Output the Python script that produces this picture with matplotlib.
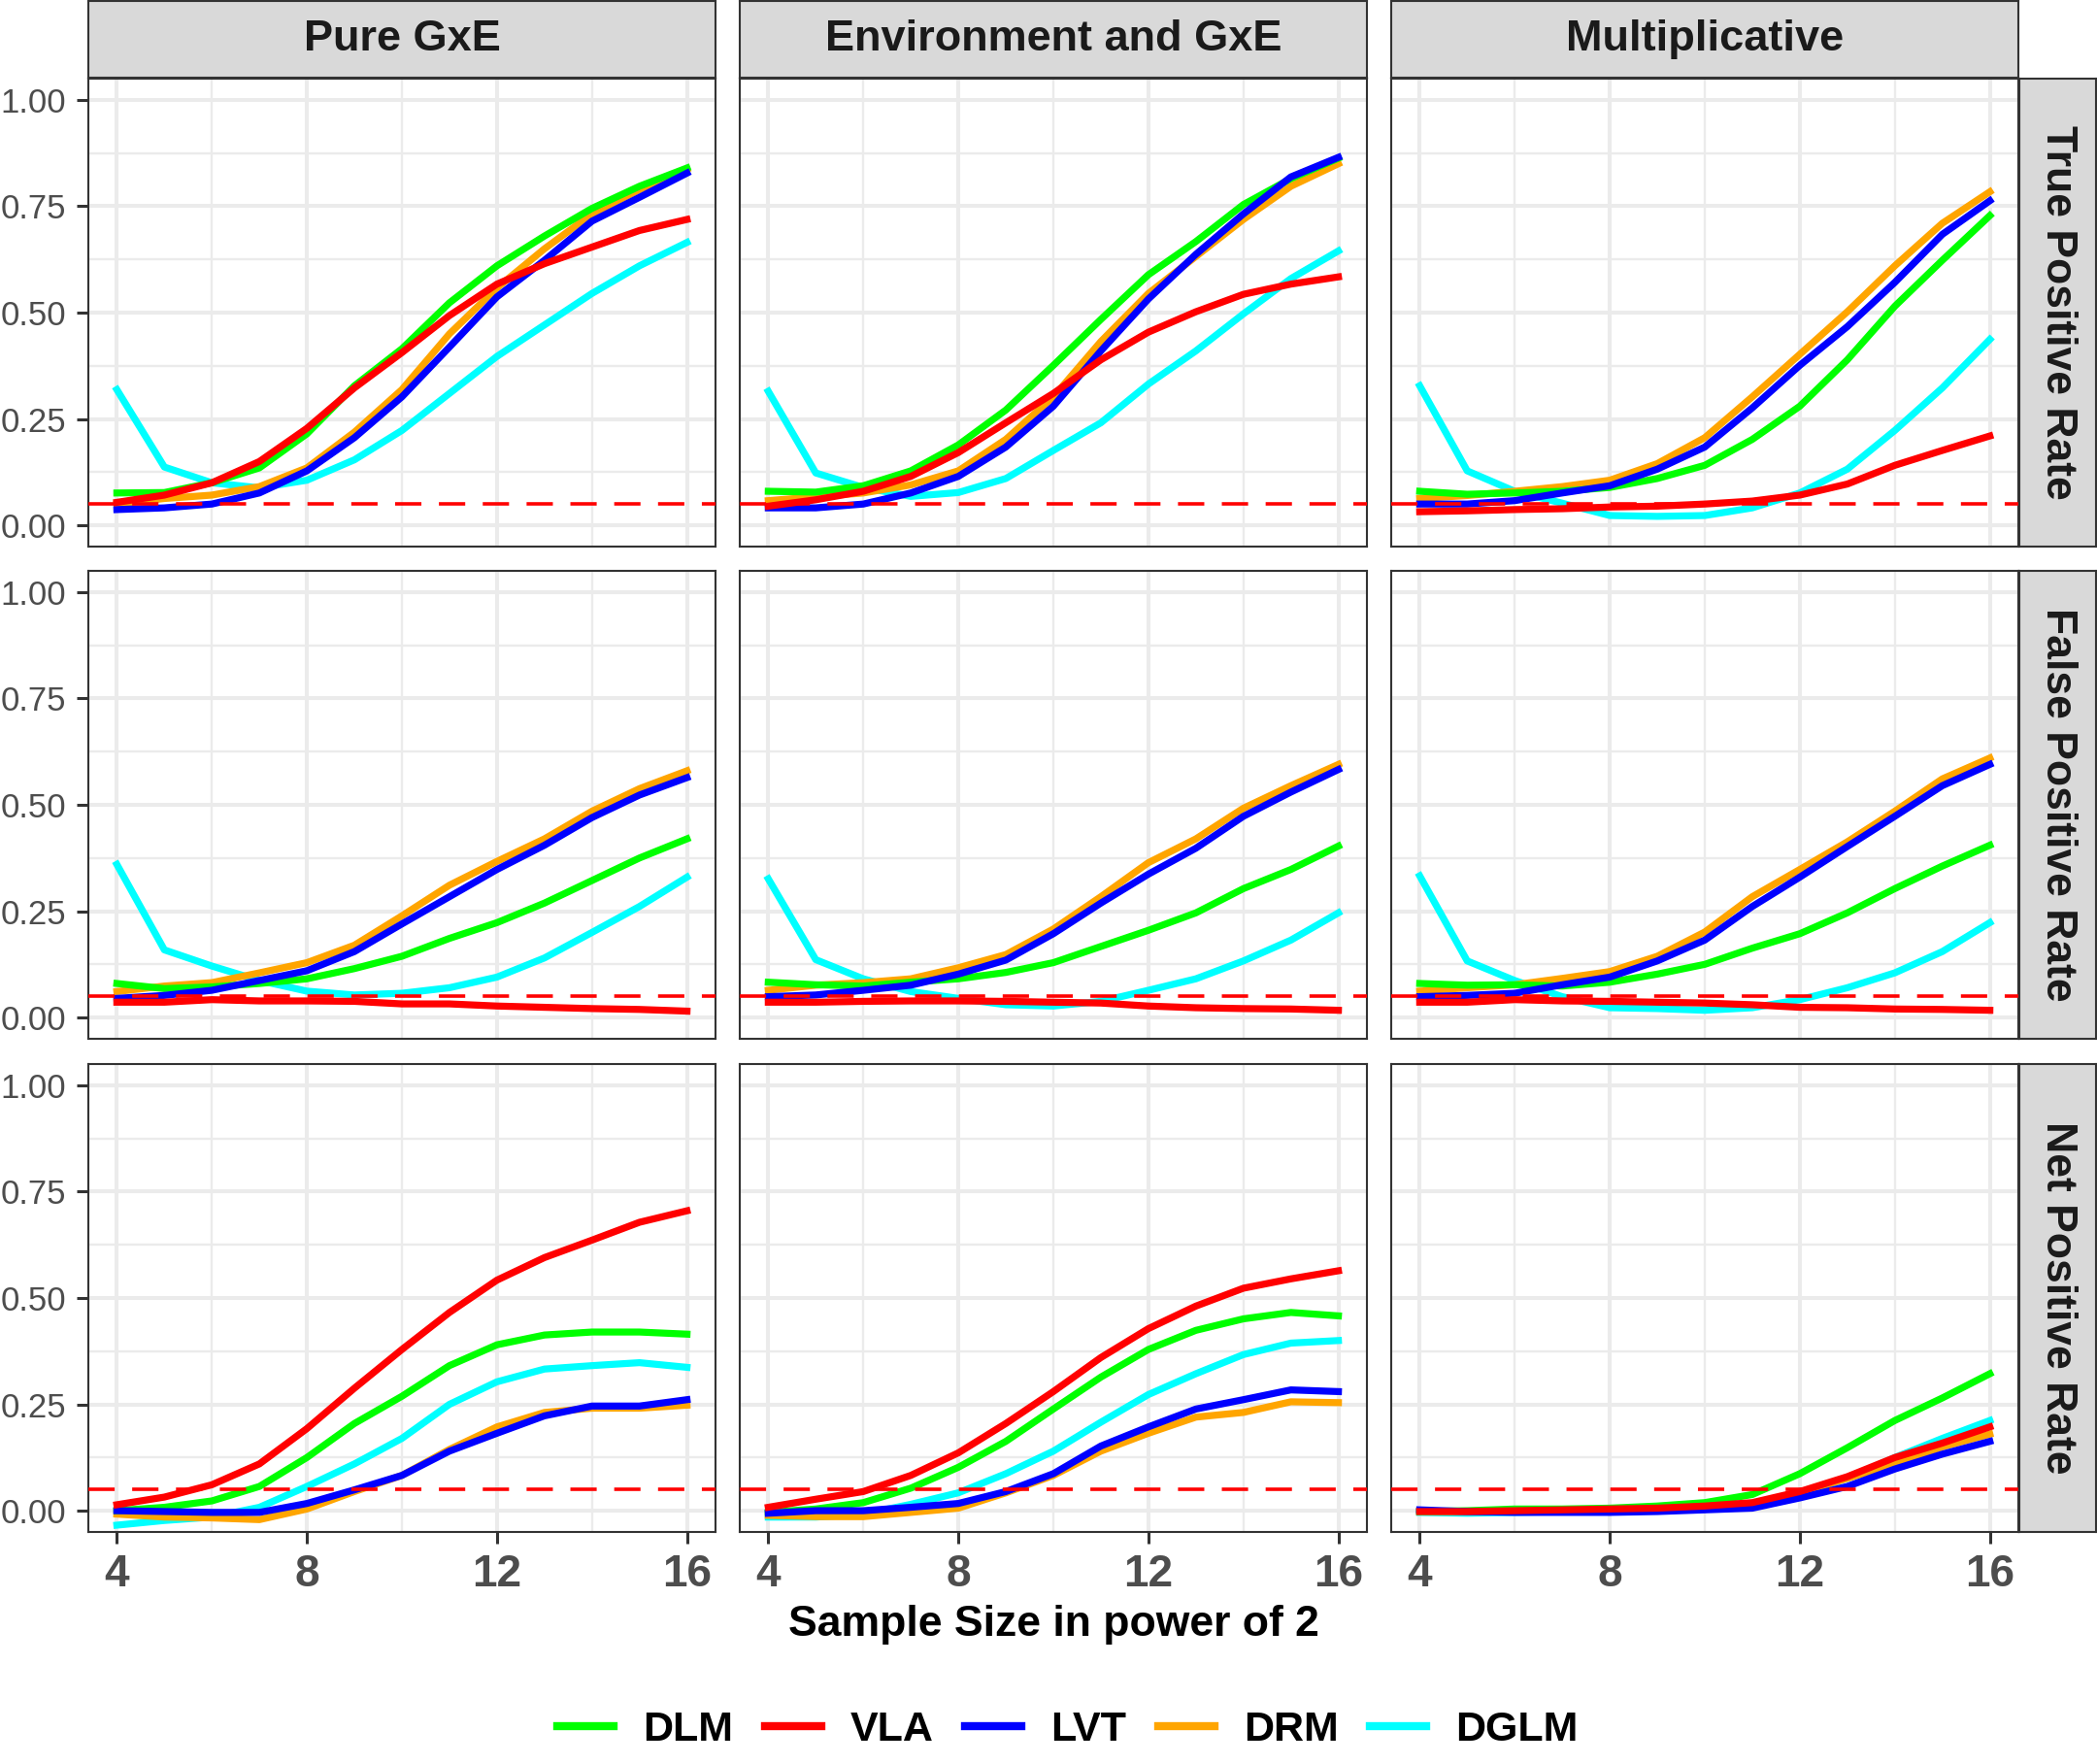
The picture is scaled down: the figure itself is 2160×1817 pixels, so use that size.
import numpy as np
import matplotlib
matplotlib.use('Agg')
import matplotlib.pyplot as plt
from matplotlib.lines import Line2D

plt.rcParams['font.family'] = ['Liberation Sans', 'DejaVu Sans']

# sample size exponent (2^x)
sizes = list(range(4, 17))
methods = ['DLM', 'VLA', 'LVT', 'DRM', 'DGLM']
colors = {'DLM': '#00FF00', 'VLA': '#FF0000', 'LVT': '#0000FF',
          'DRM': '#FFA500', 'DGLM': '#00FFFF'}
scenarios = ['Pure GxE', 'Environment and GxE', 'Multiplicative']
rates = ['True Positive Rate', 'False Positive Rate', 'Net Positive Rate']

# true positive rate
tpr_pure = {
    'DLM':  [0.076, 0.077, 0.100, 0.135, 0.215, 0.328, 0.415, 0.523, 0.610, 0.680, 0.745, 0.797, 0.840],
    'VLA':  [0.054, 0.071, 0.100, 0.150, 0.228, 0.323, 0.406, 0.493, 0.567, 0.615, 0.654, 0.693, 0.719],
    'LVT':  [0.037, 0.041, 0.050, 0.076, 0.128, 0.206, 0.302, 0.419, 0.537, 0.623, 0.715, 0.771, 0.828],
    'DRM':  [0.050, 0.063, 0.071, 0.091, 0.135, 0.219, 0.319, 0.450, 0.558, 0.650, 0.732, 0.789, 0.837],
    'DGLM': [0.319, 0.137, 0.100, 0.088, 0.106, 0.154, 0.223, 0.310, 0.397, 0.471, 0.545, 0.610, 0.665],
}
tpr_env = {
    'DLM':  [0.080, 0.078, 0.093, 0.128, 0.189, 0.271, 0.376, 0.484, 0.589, 0.667, 0.754, 0.815, 0.863],
    'VLA':  [0.045, 0.060, 0.080, 0.115, 0.171, 0.241, 0.310, 0.389, 0.454, 0.502, 0.543, 0.567, 0.584],
    'LVT':  [0.041, 0.041, 0.050, 0.076, 0.115, 0.184, 0.280, 0.410, 0.532, 0.637, 0.732, 0.819, 0.865],
    'DRM':  [0.058, 0.067, 0.076, 0.095, 0.128, 0.202, 0.302, 0.432, 0.545, 0.632, 0.719, 0.797, 0.850],
    'DGLM': [0.315, 0.123, 0.089, 0.068, 0.077, 0.110, 0.176, 0.241, 0.332, 0.410, 0.497, 0.580, 0.645],
}
tpr_mult = {
    'DLM':  [0.080, 0.073, 0.076, 0.080, 0.089, 0.110, 0.141, 0.202, 0.280, 0.389, 0.515, 0.623, 0.728],
    'VLA':  [0.032, 0.034, 0.037, 0.039, 0.043, 0.045, 0.050, 0.057, 0.071, 0.097, 0.141, 0.176, 0.210],
    'LVT':  [0.050, 0.050, 0.058, 0.076, 0.093, 0.132, 0.184, 0.276, 0.376, 0.467, 0.571, 0.684, 0.763],
    'DRM':  [0.063, 0.070, 0.080, 0.091, 0.106, 0.145, 0.206, 0.302, 0.402, 0.502, 0.610, 0.710, 0.784],
    'DGLM': [0.328, 0.128, 0.080, 0.052, 0.023, 0.021, 0.023, 0.041, 0.076, 0.132, 0.223, 0.323, 0.437],
}

# false positive rate
fpr_pure = {
    'DLM':  [0.080, 0.068, 0.072, 0.080, 0.091, 0.115, 0.144, 0.186, 0.223, 0.269, 0.322, 0.375, 0.420],
    'VLA':  [0.036, 0.036, 0.042, 0.039, 0.039, 0.038, 0.032, 0.032, 0.027, 0.024, 0.021, 0.019, 0.015],
    'LVT':  [0.045, 0.052, 0.064, 0.087, 0.110, 0.155, 0.220, 0.284, 0.348, 0.405, 0.470, 0.523, 0.564],
    'DRM':  [0.061, 0.074, 0.082, 0.105, 0.129, 0.170, 0.239, 0.311, 0.367, 0.420, 0.485, 0.538, 0.580],
    'DGLM': [0.360, 0.159, 0.121, 0.087, 0.062, 0.053, 0.057, 0.070, 0.095, 0.140, 0.200, 0.261, 0.330],
}
fpr_env = {
    'DLM':  [0.083, 0.077, 0.074, 0.083, 0.091, 0.106, 0.129, 0.167, 0.205, 0.246, 0.303, 0.348, 0.403],
    'VLA':  [0.036, 0.036, 0.038, 0.039, 0.039, 0.038, 0.036, 0.034, 0.027, 0.023, 0.021, 0.020, 0.017],
    'LVT':  [0.049, 0.053, 0.064, 0.076, 0.102, 0.135, 0.197, 0.269, 0.337, 0.398, 0.473, 0.530, 0.583],
    'DRM':  [0.064, 0.076, 0.082, 0.091, 0.117, 0.148, 0.208, 0.284, 0.364, 0.420, 0.492, 0.545, 0.595],
    'DGLM': [0.326, 0.136, 0.091, 0.061, 0.045, 0.030, 0.027, 0.038, 0.064, 0.091, 0.133, 0.182, 0.246],
}
fpr_mult = {
    'DLM':  [0.080, 0.076, 0.077, 0.074, 0.083, 0.102, 0.125, 0.163, 0.197, 0.246, 0.303, 0.356, 0.405],
    'VLA':  [0.036, 0.036, 0.042, 0.039, 0.038, 0.036, 0.034, 0.030, 0.024, 0.023, 0.020, 0.019, 0.017],
    'LVT':  [0.049, 0.052, 0.057, 0.077, 0.095, 0.133, 0.182, 0.261, 0.330, 0.402, 0.473, 0.545, 0.595],
    'DRM':  [0.062, 0.070, 0.077, 0.092, 0.108, 0.144, 0.201, 0.284, 0.348, 0.413, 0.485, 0.561, 0.610],
    'DGLM': [0.333, 0.133, 0.087, 0.049, 0.023, 0.021, 0.017, 0.023, 0.042, 0.070, 0.105, 0.155, 0.223],
}

# net positive rate
npr_pure = {
    'DLM':  [0.000, 0.008, 0.023, 0.057, 0.125, 0.205, 0.269, 0.341, 0.390, 0.413, 0.420, 0.420, 0.415],
    'VLA':  [0.014, 0.032, 0.061, 0.110, 0.193, 0.288, 0.379, 0.466, 0.542, 0.595, 0.636, 0.678, 0.705],
    'LVT':  [0.000, -0.002, -0.004, -0.004, 0.017, 0.049, 0.083, 0.140, 0.182, 0.223, 0.246, 0.246, 0.261],
    'DRM':  [-0.008, -0.015, -0.017, -0.021, 0.004, 0.045, 0.083, 0.144, 0.197, 0.231, 0.241, 0.241, 0.248],
    'DGLM': [-0.034, -0.023, -0.015, 0.008, 0.057, 0.110, 0.170, 0.250, 0.303, 0.333, 0.341, 0.348, 0.337],
}
npr_env = {
    'DLM':  [-0.004, 0.004, 0.019, 0.053, 0.102, 0.163, 0.239, 0.314, 0.379, 0.424, 0.451, 0.466, 0.458],
    'VLA':  [0.008, 0.027, 0.045, 0.083, 0.136, 0.205, 0.280, 0.360, 0.428, 0.481, 0.523, 0.545, 0.564],
    'LVT':  [-0.006, 0.000, 0.000, 0.008, 0.017, 0.045, 0.087, 0.152, 0.197, 0.239, 0.261, 0.284, 0.280],
    'DRM':  [-0.011, -0.014, -0.014, -0.004, 0.006, 0.042, 0.083, 0.140, 0.182, 0.220, 0.231, 0.256, 0.254],
    'DGLM': [-0.015, -0.015, -0.008, 0.015, 0.042, 0.087, 0.140, 0.208, 0.273, 0.322, 0.367, 0.394, 0.400],
}
npr_mult = {
    'DLM':  [-0.002, 0.000, 0.004, 0.004, 0.006, 0.011, 0.019, 0.038, 0.087, 0.148, 0.212, 0.265, 0.322],
    'VLA':  [-0.002, -0.002, 0.000, 0.002, 0.004, 0.006, 0.011, 0.019, 0.045, 0.080, 0.125, 0.159, 0.197],
    'LVT':  [0.002, -0.002, -0.004, -0.004, -0.004, -0.002, 0.002, 0.006, 0.030, 0.057, 0.098, 0.133, 0.163],
    'DRM':  [-0.002, -0.002, -0.002, -0.002, 0.000, 0.004, 0.009, 0.017, 0.042, 0.076, 0.110, 0.150, 0.180],
    'DGLM': [-0.004, -0.006, -0.004, -0.002, 0.000, 0.002, 0.008, 0.015, 0.042, 0.076, 0.125, 0.170, 0.212],
}

panels = [[tpr_pure, tpr_env, tpr_mult],
          [fpr_pure, fpr_env, fpr_mult],
          [npr_pure, npr_env, npr_mult]]

W, H = 2160, 1817
fig = plt.figure(figsize=(W / 100, H / 100), dpi=100)

col_left = [91, 762, 1433]
row_top = [81, 588, 1096]
pw, ph = 646, 482

def box(x, y, w, h):
    # pixel box (from top-left) -> figure fraction
    return [x / W, 1 - (y + h) / H, w / W, h / H]

dark = '#333333'
draw_order = ['DGLM', 'DRM', 'DLM', 'LVT', 'VLA']

for r in range(3):
    for c in range(3):
        ax = fig.add_axes(box(col_left[c], row_top[r], pw, ph))
        ax.set_xlim(3.4, 16.6)
        ax.set_ylim(-0.05, 1.05)
        ax.set_xticks([4, 8, 12, 16])
        ax.set_xticks([6, 10, 14], minor=True)
        ax.set_yticks([0, 0.25, 0.5, 0.75, 1.0])
        ax.set_yticklabels(['0.00', '0.25', '0.50', '0.75', '1.00'])
        ax.set_yticks([0.125, 0.375, 0.625, 0.875], minor=True)
        ax.grid(which='major', color='#EBEBEB', lw=2.9)
        ax.grid(which='minor', color='#EBEBEB', lw=1.7)
        ax.set_axisbelow(True)
        for m in draw_order:
            ax.plot(sizes, panels[r][c][m], color=colors[m], lw=5.2, zorder=3)
        ax.axhline(0.05, color='#FF0000', lw=2.6, ls=(0, (7.5, 5)), zorder=4)
        for s in ax.spines.values():
            s.set_color(dark)
            s.set_linewidth(1.5)
        ax.tick_params(which='minor', length=0)
        ax.tick_params(which='major', length=8.5, width=2.2, color=dark)
        ax.tick_params(axis='y', labelsize=25, labelcolor='#4D4D4D', pad=8,
                       left=(c == 0), labelleft=(c == 0))
        ax.tick_params(axis='x', labelsize=33, labelcolor='#4D4D4D', pad=7,
                       bottom=(r == 2), labelbottom=(r == 2))
        for lab in ax.get_xticklabels():
            lab.set_fontweight('bold')

# column strips
for c in range(3):
    sa = fig.add_axes(box(col_left[c], 1, pw, 79))
    sa.set_facecolor('#D9D9D9')
    sa.set_xticks([])
    sa.set_yticks([])
    for s in sa.spines.values():
        s.set_color(dark)
        s.set_linewidth(1.5)
    sa.text(0.5, 0.5, scenarios[c], transform=sa.transAxes, ha='center', va='center',
            fontsize=32.5, fontweight='bold', color='#1A1A1A')

# row strips
for r in range(3):
    sa = fig.add_axes(box(2080, row_top[r], 79, ph))
    sa.set_facecolor('#D9D9D9')
    sa.set_xticks([])
    sa.set_yticks([])
    for s in sa.spines.values():
        s.set_color(dark)
        s.set_linewidth(1.5)
    sa.text(0.5, 0.5, rates[r], transform=sa.transAxes, ha='center', va='center',
            rotation=270, fontsize=32, fontweight='bold', color='#1A1A1A')

fig.text(1085 / W, 1 - 1673 / H, 'Sample Size in power of 2', ha='center', va='center',
         fontsize=32, fontweight='bold')

handles = [Line2D([0], [0], color=colors[m], lw=6) for m in methods]
fig.legend(handles, methods, loc='center', bbox_to_anchor=(1100 / W, 1 - 1782 / H),
           ncol=5, frameon=False, prop={'size': 31, 'weight': 'bold'},
           handlelength=1.35, handletextpad=0.7, columnspacing=0.75)

fig.savefig('out.png', dpi=100, facecolor='white')
